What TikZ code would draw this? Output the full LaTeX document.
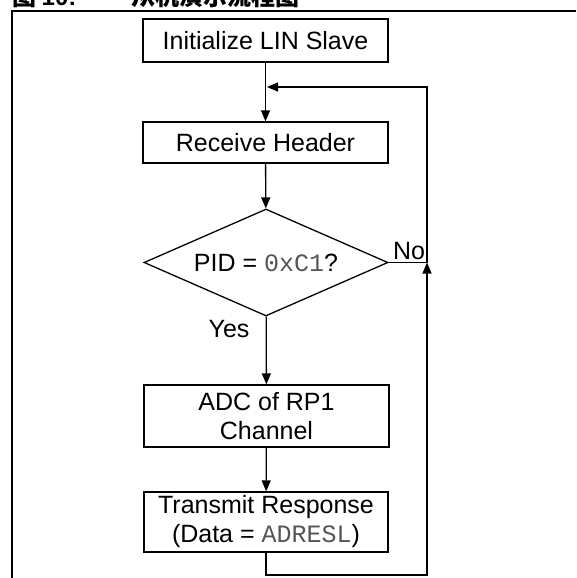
\documentclass[tikz,border=0pt]{standalone}
\usepackage{fontspec}
\setmainfont{Liberation Sans}
\setmonofont{Liberation Mono}
\newfontfamily\cjk{Noto Sans CJK SC}
\usetikzlibrary{shapes.geometric,arrows.meta}
\definecolor{codegray}{HTML}{555555}
\tikzset{
  every node/.style={font=\fontsize{25}{29}\selectfont},
  stepbox/.style={draw, line width=1.3pt, inner sep=0pt, align=center},
  decision/.style={draw, diamond, shape aspect=2.28, line width=1.3pt, inner sep=0pt,
    minimum width=244pt, minimum height=107pt},
  flow/.style={line width=1.3pt, -{Triangle[length=11pt,width=9pt]}},
  plain/.style={line width=1.3pt},
  lbl/.style={inner sep=0pt},
}
\newcommand{\code}[1]{{\ttfamily\color{codegray}#1}}
\begin{document}
\begin{tikzpicture}[x=1pt,y=1pt]
\useasboundingbox (0,0) rectangle (576,-578);
\clip (0,0) rectangle (576,-578);

% caption line, cut off by the page edge
\node[anchor=base west, lbl, font=\fontsize{24}{28}\selectfont\bfseries] (cap1) at (12,-6) {\cjk 图\ \rmfamily 10:};
\node[anchor=base west, lbl, font=\fontsize{24}{28}\selectfont\bfseries] (cap2) at (131,-6) {\cjk 从机演示流程图};

% frame
\draw[line width=2.5pt] (12,-578) -- (12,-11) -- (576,-11);

% process steps
\node[stepbox, minimum width=245pt, minimum height=43pt] (init) at (265.5,-40.5) {Initialize LIN Slave};
\node[stepbox, minimum width=245pt, minimum height=41pt] (recv) at (265.5,-142.5) {Receive Header};
\node[decision] (pid) at (266,-262.5) {PID = \code{0xC1}?};
\node[stepbox, minimum width=245pt, minimum height=62pt] (adc) at (266.5,-416) {ADC of RP1\\Channel};
\node[stepbox, minimum width=244pt, minimum height=60pt] (tx) at (266,-522) {Transmit Response\\(Data = \code{ADRESL})};

% loop-back route
\coordinate (join) at (427,-262.5);
\coordinate (topr) at (427,-87);
\coordinate (topl) at (267,-87);
\coordinate (botr) at (427,-575);

% connectors
\draw[flow] (init) -- (recv);
\draw[flow] (recv) -- (pid);
\draw[flow] (pid) -- (adc);
\draw[flow] (adc) -- (tx);
\draw[plain] (pid.east) -- (join);
\draw[flow] (join) -- (topr) -- (topl);
\draw[flow] (tx.south) |- (botr) -- (join);

% branch labels
\node[lbl] (no) at (409,-251) {No};
\node[lbl] (yes) at (229,-329) {Yes};
\end{tikzpicture}
\end{document}
